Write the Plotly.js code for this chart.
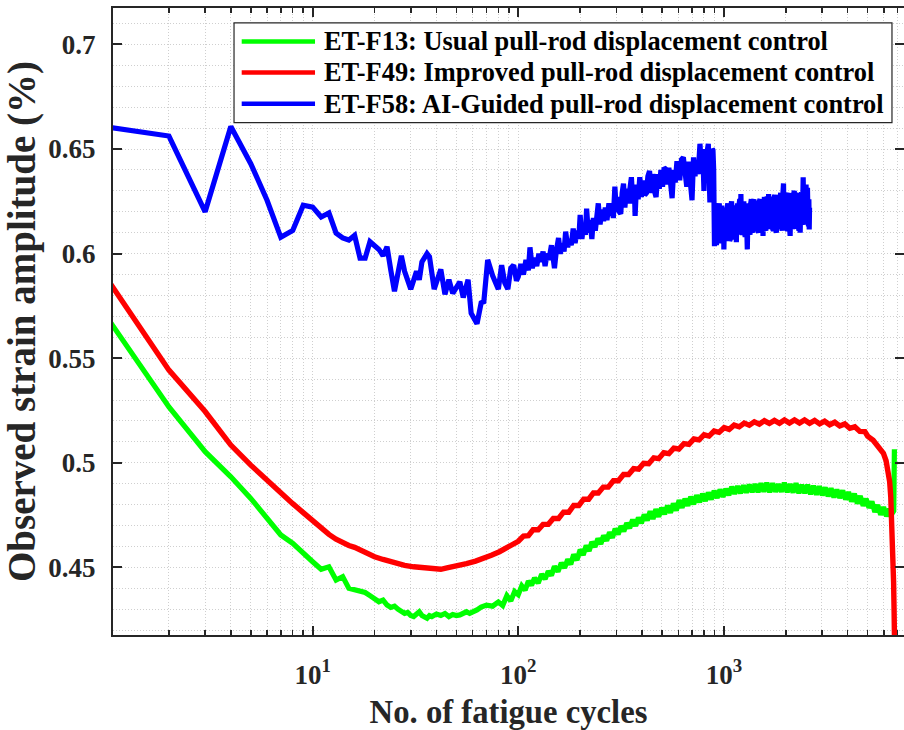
<!DOCTYPE html>
<html><head><meta charset="utf-8">
<script src="https://cdn.plot.ly/plotly-3.0.1.min.js"></script>
<style>html,body{margin:0;padding:0;background:#fff;} #chart{width:904px;height:730px;}</style>
</head><body><div id="chart"></div>
<script>
// ---------- data ----------
const seriesNames = [
  'ET-F13: Usual pull-rod displacement control',
  'ET-F49: Improved pull-rod displacement control',
  'ET-F58: AI-Guided pull-rod displacement control'
];
const seriesColors = ['#00ff00', '#ff0000', '#0000ff'];

// [cycle, strain amplitude %]
const f13Points = [
  [1,0.5695],[2,0.5267],[3,0.5053],[4,0.4933],[5,0.483],[6,0.4735],[7,0.4655],[8,0.4615],[9,0.4565],[10,0.4527],
  [11,0.4491],[12,0.4503],[13,0.444],[14,0.4456],[15,0.440],[16,0.4395],[17,0.4388],[18,0.438],[19,0.4365],[20,0.435],
  [21,0.4336],[22,0.4344],[23,0.432],[24,0.4309],[25,0.4315],[26,0.430],[27,0.4292],[28,0.428],[29,0.4285],[30,0.427],
  [31,0.4265],[32,0.428],[33,0.4288],[34,0.427],[35,0.4265],[36,0.4257],[37,0.427],[38,0.4265],[40,0.4277],[42,0.427],
  [44,0.428],[46,0.4265],[48,0.4275],[50,0.427],[52,0.4273],[54,0.428],[56,0.4288],[58,0.428],[60,0.429],[63,0.4297],
  [66,0.431],[70,0.432],[75,0.4315],[80,0.4335],[84,0.4318],[88,0.4365],[92,0.434],[96,0.4385],[100,0.437],[104,0.4412],
  [108,0.4392],[112,0.4435],[116,0.4415],[120,0.445],[125,0.4425],[130,0.4468],[135,0.4445],[140,0.4482],[145,0.4462],[150,0.4505],
  [156,0.448],[162,0.4522],[168,0.4498],[174,0.4538],[180,0.4515],[186,0.4562],[193,0.4535],[200,0.4585],[207,0.456],[214,0.4605],
  [221,0.4578],[228,0.4622],[236,0.4598],[244,0.4638],[252,0.4612],[260,0.4652],[269,0.4628],[278,0.4668],[287,0.4642],[296,0.4685],
  [306,0.4658],[316,0.4698],[326,0.4672],[337,0.4712],[348,0.4688],[360,0.4728],[372,0.4698],[384,0.4738],[397,0.4712],[410,0.4752],
  [424,0.4725],[438,0.4768],[452,0.4732],[467,0.4778],[482,0.4742],[498,0.4785],[515,0.4755],[532,0.4795],[550,0.4762],[568,0.4805],
  [587,0.4772],[606,0.4822],[626,0.4785],[647,0.4828],[668,0.4795],[690,0.4838],[713,0.4802],[737,0.4845],[762,0.4812],[787,0.4852],
  [813,0.4818],[840,0.4858],[868,0.4825],[897,0.4866],[927,0.4832],[958,0.4872],[990,0.4838],[1023,0.4875],[1057,0.4845],[1092,0.4885],
  [1128,0.4852],[1166,0.4888],[1205,0.4855],[1245,0.4892],[1286,0.4858],[1329,0.4895],[1373,0.486],[1419,0.4898],[1466,0.486],[1515,0.4902],
  [1565,0.4862],[1617,0.4905],[1671,0.486],[1727,0.4902],[1784,0.4862],[1843,0.4898],[1905,0.4862],[1968,0.4905],[2033,0.486],[2101,0.4898],
  [2171,0.4858],[2243,0.4902],[2317,0.4855],[2394,0.4895],[2474,0.4855],[2556,0.4895],[2641,0.485],[2729,0.489],[2820,0.4848],[2913,0.4888],
  [3010,0.4845],[3110,0.4882],[3213,0.484],[3320,0.4878],[3430,0.4835],[3544,0.4872],[3662,0.4832],[3784,0.4868],[3910,0.4825],[4040,0.486],
  [4174,0.4815],[4313,0.4852],[4456,0.4805],[4604,0.4842],[4757,0.4795],[4915,0.4828],[5079,0.4785],[5247,0.4815],[5422,0.4765],[5602,0.4798],
  [5788,0.4752],[5980,0.4788],[6179,0.4745],[6384,0.478],[6550,0.4755],[6700,0.477],[6750,0.5065]
];

const f49Points = [
  [1,0.588],[2,0.5443],[3,0.5245],[4,0.5085],[5,0.4989],[6,0.4915],[7,0.4855],[8,0.4805],[9,0.4762],[10,0.4722],
  [11,0.4683],[12,0.4658],[13,0.4635],[14,0.4618],[15,0.4605],[16,0.4596],[17,0.4582],[18,0.4569],[19,0.456],[20,0.4551],
  [22,0.4538],[25,0.452],[28,0.451],[31,0.4503],[34,0.4498],[36,0.4496],[39,0.4494],[42,0.4491],[45,0.4498],[48,0.4503],
  [52,0.451],[56,0.4518],[62,0.453],[68,0.4543],[74,0.4558],[81,0.4575],[88,0.4595],[95,0.4615],
  [100,0.4625],[106,0.4650],[112,0.4652],[118,0.4680],[125,0.4680],[132,0.4706],[140,0.4706],[148,0.4734],[157,0.4734],[166,0.4764],
  [176,0.4764],[186,0.4796],[197,0.4796],[208,0.4826],[220,0.4826],[232,0.4856],[245,0.4856],[259,0.4884],[274,0.4884],[290,0.4914],
  [307,0.4914],[325,0.4944],[344,0.4944],[364,0.4972],[385,0.4970],[407,0.4998],[431,0.4996],[456,0.5024],[482,0.5020],[510,0.5048],
  [540,0.5044],[571,0.5070],[604,0.5066],[639,0.5092],[676,0.5088],[715,0.5114],[757,0.5110],[801,0.5134],[847,0.5128],[896,0.5152],
  [948,0.5146],[1003,0.5168],[1061,0.5160],[1122,0.5180],[1187,0.5172],[1256,0.5190],[1329,0.5180],[1406,0.5196],[1487,0.5185],[1573,0.5201],
  [1664,0.5188],[1761,0.5203],[1863,0.5189],[1970,0.5205],[2084,0.5190],[2205,0.5205],[2333,0.5190],[2468,0.5205],[2611,0.5189],[2762,0.5203],
  [2922,0.5186],[3091,0.5199],[3270,0.5182],[3460,0.5194],[3660,0.5176],[3872,0.5186],[4096,0.5165],[4333,0.5172],[4584,0.5150],[4850,0.5149],
  [5000,0.5128],[5320,0.5108],[5650,0.508],[5970,0.5045],[6150,0.501],[6300,0.4965],[6400,0.491],[6480,0.4838],[6560,0.473],[6630,0.4599],
  [6690,0.443],[6730,0.428],[6770,0.41]
];

const f58Points = [
  [1,0.6605],[2,0.6562],[3,0.620],[4,0.6608],[5,0.643],[6,0.6255],[7,0.6078],[8,0.6111],[9,0.6231],[10,0.6222],
  [11,0.6175],[12,0.6194],[13,0.6098],[14,0.6075],[15,0.6065],[16,0.6087],[17,0.5978],[18,0.5978],[19,0.6057],[21,0.602],
  [22,0.599],[23,0.6033],[24,0.592],[25,0.582],[27,0.599],[28,0.5915],[30,0.583],[32,0.5915],[33,0.5875],[34,0.596],
  [36,0.600],[37,0.5985],[39,0.583],[42,0.5925],[44,0.5805],[46,0.5875],[48,0.581],[52,0.5865],[54,0.579],[57,0.5875],
  [59,0.5715],[63,0.5665],[66,0.5765],[68,0.577],[71,0.597],[75,0.5895],[80,0.583],[83,0.5945],[86,0.586],[89,0.583],
  [92,0.593],[95,0.5945],[98,0.587],
  [100,0.589],[103,0.595],[106,0.590],[109,0.597],[112,0.592],[114,0.603],[117,0.593],[120,0.598],[123,0.594],[126,0.600],
  [129,0.596],[132,0.601],[135,0.594],[138,0.600],[141,0.597],[145,0.604],[148,0.596],[150,0.593],[153,0.601],[157,0.6075],
  [160,0.600],[164,0.605],[167,0.601],[170,0.6105],[174,0.603],[177,0.607],[181,0.604],[185,0.612],[189,0.605],[193,0.611],
  [197,0.607],[200,0.6185],[204,0.607],[208,0.614],[212,0.609],[215,0.6215],[219,0.610],[223,0.616],[228,0.607],[232,0.617],
  [237,0.611],[241,0.620],[245,0.624],[250,0.614],[255,0.621],[260,0.6155],[265,0.622],[270,0.616],[276,0.624],[281,0.618],
  [285,0.6235],[290,0.617],[295,0.632],[300,0.620],[305,0.627],[310,0.620],[315,0.619],[320,0.629],[325,0.6335],[330,0.622],
  [336,0.631],[342,0.624],[348,0.633],[355,0.6365],[361,0.624],[367,0.632],[370,0.618],[376,0.633],[383,0.626],[390,0.6365],
  [397,0.627],[404,0.635],[412,0.628],[420,0.629],[427,0.637],[435,0.6395],[443,0.629],[451,0.638],[459,0.630],[468,0.627],
  [476,0.638],[485,0.631],[494,0.640],[503,0.632],[512,0.641],[520,0.6405],[530,0.633],[540,0.641],[550,0.634],[560,0.6265],
  [570,0.640],[580,0.634],[590,0.643],[600,0.643],[610,0.635],[622,0.645],[635,0.646],[647,0.636],[660,0.632],[672,0.644],
  [685,0.636],[700,0.6255],[712,0.646],[724,0.637],[735,0.6445],[750,0.638],[765,0.6525],[780,0.639],[790,0.648],[800,0.630],
  [810,0.650],[820,0.636],[830,0.649],[840,0.6525],[848,0.638],[855,0.6245],[862,0.645],[870,0.636],[878,0.650],[885,0.6495],
  [892,0.640],
  [900,0.6035],[905,0.618],[910,0.622],[915,0.607],[920,0.604],[925,0.621],[930,0.624],[935,0.608],[940,0.606],[945,0.622],
  [950,0.624],[955,0.607],[960,0.605],[967,0.621],[975,0.623],[982,0.608],[990,0.607],[995,0.622],[1000,0.602],[1008,0.619],
  [1015,0.621],[1022,0.606],[1030,0.606],[1037,0.622],[1045,0.624],[1052,0.608],[1060,0.619],[1067,0.606],[1075,0.607],[1082,0.623],
  [1090,0.625],[1097,0.609],[1105,0.608],[1112,0.622],[1120,0.623],[1127,0.608],[1135,0.607],[1142,0.622],[1150,0.6055],[1157,0.620],
  [1165,0.624],[1172,0.609],[1180,0.609],[1187,0.624],[1195,0.626],[1202,0.610],[1210,0.6285],[1220,0.611],[1230,0.609],[1240,0.623],
  [1250,0.625],[1260,0.610],[1270,0.608],[1285,0.622],[1300,0.602],[1310,0.620],[1320,0.624],[1330,0.610],[1340,0.609],[1350,0.624],
  [1360,0.626],[1370,0.611],[1380,0.610],[1390,0.625],[1400,0.626],[1412,0.612],[1425,0.611],[1437,0.624],[1450,0.625],[1462,0.611],
  [1475,0.610],[1487,0.625],[1500,0.626],[1512,0.612],[1525,0.611],[1537,0.625],[1550,0.6085],[1562,0.624],[1575,0.627],[1587,0.612],
  [1600,0.611],[1612,0.626],[1625,0.627],[1637,0.612],[1650,0.6285],[1665,0.613],[1680,0.612],[1695,0.626],[1710,0.627],[1725,0.612],
  [1740,0.611],[1755,0.627],[1770,0.628],[1785,0.612],[1800,0.610],[1815,0.626],[1830,0.628],[1845,0.613],[1860,0.612],[1875,0.627],
  [1890,0.629],[1905,0.613],[1920,0.611],[1935,0.628],[1950,0.6335],[1965,0.613],[1980,0.612],[1995,0.627],[2010,0.628],[2025,0.612],
  [2040,0.611],[2055,0.628],[2070,0.629],[2085,0.613],[2100,0.6085],[2115,0.626],[2130,0.628],[2145,0.613],[2160,0.612],[2180,0.628],
  [2200,0.630],[2220,0.613],[2240,0.612],[2260,0.628],[2280,0.629],[2300,0.613],[2320,0.611],[2335,0.627],[2350,0.610],[2370,0.628],
  [2390,0.629],[2410,0.614],[2430,0.6365],[2450,0.615],[2470,0.614],[2490,0.630],[2510,0.633],[2530,0.615],[2550,0.6315],[2565,0.616],
  [2580,0.613],[2590,0.626],[2600,0.6115],[2610,0.622]
];

const xTickValues = [10, 100, 1000];
const xTickLabels = ['10<sup>1</sup>', '10<sup>2</sup>', '10<sup>3</sup>'];
const yTickValues = [0.45, 0.5, 0.55, 0.6, 0.65, 0.7];
const yTickLabels = ['0.45', '0.5', '0.55', '0.6', '0.65', '0.7'];
const xTitle = 'No. of fatigue cycles';
const yTitle = 'Observed strain amplitude (%)';

// ---------- build ----------
const allPoints = [f13Points, f49Points, f58Points];
const lineWidths = [5.2, 5.4, 5.2];
const traces = allPoints.map((pts, i) => ({
  type: 'scatter', mode: 'lines',
  x: pts.map(p => p[0]), y: pts.map(p => p[1]),
  name: seriesNames[i],
  line: {color: seriesColors[i], width: lineWidths[i]},
  showlegend: false, hoverinfo: 'skip'
}));

const minorX = [];
[1, 10, 100, 1000].forEach(d => { for (let m = 2; m <= 9; m++) minorX.push(m * d); });

const axisColor = '#262626';
const gridColor = '#cfcfcf';
const FONT = 'Liberation Serif, Times New Roman, serif';

// legend, drawn with shapes + annotations (paper coords)
const legendRows = [0.9466, 0.8972, 0.8473];
const shapes = [{
  type: 'rect', xref: 'paper', yref: 'paper', x0: 0.153, x1: 0.9848, y0: 0.8171, y1: 0.9764,
  line: {color: axisColor, width: 1.2}, fillcolor: '#ffffff', layer: 'above'
}];
const annotations = [];
seriesNames.forEach((nm, i) => {
  shapes.push({type: 'line', xref: 'paper', yref: 'paper', x0: 0.1627, x1: 0.2554,
    y0: legendRows[i], y1: legendRows[i], line: {color: seriesColors[i], width: 4.6}, layer: 'above'});
  annotations.push({xref: 'paper', yref: 'paper', x: 0.2642, y: legendRows[i], xanchor: 'left', yanchor: 'middle',
    text: nm, showarrow: false, font: {family: FONT, size: 26.4, weight: 'bold', color: '#000'}});
});

const layout = {
  width: 904, height: 730,
  margin: {l: 113, r: 0, t: 8, b: 95},
  paper_bgcolor: '#ffffff', plot_bgcolor: '#ffffff',
  font: {family: FONT, color: axisColor},
  xaxis: {
    type: 'log', range: [0.029, 3.876],
    showline: true, linecolor: axisColor, linewidth: 2.2, mirror: 'allticks',
    ticks: 'inside', ticklen: 9, tickwidth: 2, tickcolor: axisColor,
    tickmode: 'array', tickvals: xTickValues, ticktext: xTickLabels,
    tickfont: {family: FONT, size: 27, weight: 'bold', color: axisColor},
    ticklabelstandoff: 14,
    showgrid: true, gridcolor: gridColor, griddash: '1px,2px', gridwidth: 1,
    zeroline: false,
    minor: {tickmode: 'array', tickvals: minorX, ticks: 'inside', ticklen: 5, tickwidth: 1.5, tickcolor: axisColor,
      showgrid: true, gridcolor: gridColor, griddash: '1px,2px', gridwidth: 1},
    title: {text: xTitle, font: {family: FONT, size: 32.7, weight: 'bold', color: axisColor}, standoff: 14}
  },
  yaxis: {
    range: [0.4177, 0.7174],
    showline: true, linecolor: axisColor, linewidth: 2.2, mirror: 'allticks',
    ticks: 'inside', ticklen: 9, tickwidth: 2, tickcolor: axisColor,
    tickmode: 'array', tickvals: yTickValues, ticktext: yTickLabels,
    tickfont: {family: FONT, size: 27, weight: 'bold', color: axisColor},
    ticklabelstandoff: 10,
    showgrid: true, gridcolor: gridColor, griddash: '1px,2px', gridwidth: 1,
    zeroline: false,
    minor: {dtick: 0.01, ticks: '', showgrid: true, gridcolor: gridColor, griddash: '1px,2px', gridwidth: 1},
    title: {text: yTitle, font: {family: FONT, size: 39, weight: 'bold', color: axisColor}, standoff: 6}
  },
  shapes: shapes,
  annotations: annotations,
  showlegend: false
};

Plotly.newPlot('chart', traces, layout, {displayModeBar: false, staticPlot: true});
</script>
</body></html>
